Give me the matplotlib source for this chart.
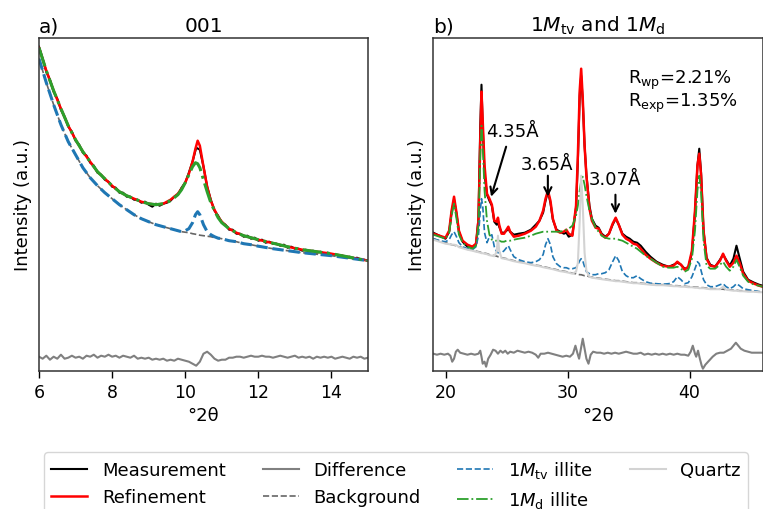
import numpy as np
import matplotlib
matplotlib.use("Agg")
import matplotlib.pyplot as plt

# ---------------- data: panel a) 001 ----------------
lx = np.round(np.arange(6.0, 15.001, 0.1), 2)
meas_left = [324, 312, 299, 291, 279, 272, 261, 254, 244, 239,
             230, 226, 218, 215, 208, 205, 198, 196, 191, 189,
             184, 183, 178, 178, 174, 174, 171, 171, 168, 169,
             166, 164, 167, 165, 167, 168, 170, 174, 176, 183,
             188, 198, 209, 223, 221, 204, 184, 171, 160, 155,
             148, 146, 141, 141, 137, 137, 134, 135, 132, 133,
             130, 131, 128, 129, 127, 127, 125, 126, 123, 124,
             122, 122, 120, 121, 119, 120, 118, 119, 117, 118,
             116, 116, 115, 115, 113, 114, 112, 113, 111, 111,
             110]
diff_left = [14, 12, 15, 11, 14, 12, 16, 12, 13, 15,
             13, 14, 12, 15, 14, 16, 13, 15, 14, 16,
             14, 15, 13, 15, 14, 13, 15, 12, 13, 12,
             13, 11, 12, 11, 12, 10, 11, 10, 12, 11,
             10, 9, 7, 5, 9, 17, 19, 16, 12, 10,
             11, 11, 13, 13, 14, 14, 13, 14, 15, 14,
             14, 15, 14, 14, 13, 14, 15, 14, 13, 14,
             15, 13, 14, 13, 14, 12, 14, 13, 14, 13,
             14, 12, 13, 14, 13, 12, 14, 13, 14, 12,
             13]
lxf = [6.0, 6.2, 6.4, 6.6, 6.8, 7.0, 7.2, 7.4, 7.6, 7.8,
       8.0, 8.2, 8.4, 8.6, 8.8, 9.0, 9.2, 9.4, 9.6, 9.8,
       9.9, 10.0, 10.1, 10.2, 10.28, 10.34, 10.4, 10.5, 10.6, 10.7,
       10.8, 10.9, 11.0, 11.2, 11.4, 11.6, 11.8, 12.0, 12.4, 12.8,
       13.2, 13.6, 14.0, 14.5, 15.0]
ref_left = [323, 300, 280, 262, 245, 231, 219, 209, 199, 192,
            185, 179, 175, 172, 169, 167, 166, 167, 171, 177,
            182, 188, 197, 209, 222, 230, 225, 204, 184, 170,
            161, 154, 149, 142, 138, 135, 133, 131, 127.5, 124,
            121, 119, 117, 113.5, 110]
d_left = [323, 300, 280, 262, 245, 231, 219, 209, 199, 192,
          185, 179, 175, 172, 169, 167, 166, 167, 170, 176,
          181, 188, 196, 204, 208, 207, 203, 191, 179, 168,
          160, 153, 148, 142, 138, 135, 133, 131, 127.5, 124,
          121, 119, 117, 113.5, 110]
bg_left = [312, 288, 266, 246, 229, 216, 203, 193, 185, 178,
           172, 166, 161, 156, 152, 149, 146, 144, 142, 140,
           139, 138.5, 138, 137, 136.5, 136, 135.5, 135, 134.5, 134,
           133, 132.5, 132, 130, 129, 127, 126, 124.5, 122, 120,
           118, 116.5, 115, 112.5, 110]
tv_left = [312, 288, 266, 246, 229, 216, 203, 193, 185, 178,
           172, 166, 161, 156, 152, 149, 146, 144, 142, 140,
           139, 140, 142, 148, 156, 159, 156, 146, 139, 136,
           134, 132.5, 132, 130, 129, 127, 126, 124.5, 122, 120,
           118, 116.5, 115, 112.5, 110]

# ---------------- data: panel b) 1Mtv and 1Md ----------------
rx = [19.0, 19.5, 20.0, 20.3, 20.5, 20.7, 20.9, 21.1, 21.4, 21.8,
      22.2, 22.5, 22.7, 22.85, 22.95, 23.05, 23.2, 23.4, 23.6, 23.8,
      24.0, 24.2, 24.3, 24.4, 24.6, 24.8, 25.0, 25.15, 25.3, 25.6,
      26.0, 26.5, 27.0, 27.4, 27.7, 28.0, 28.2, 28.4, 28.6, 28.8,
      29.1, 29.4, 29.7, 29.9, 30.1, 30.4, 30.7, 30.85, 31.0, 31.12,
      31.25, 31.4, 31.55, 31.8, 32.0, 32.3, 32.55, 32.8, 33.1, 33.4,
      33.7, 33.95, 34.2, 34.5, 34.8, 35.1, 35.4, 35.7, 36.0, 36.4,
      36.8, 37.3, 37.8, 38.3, 38.7, 39.0, 39.3, 39.6, 39.9, 40.2,
      40.45, 40.65, 40.8, 40.95, 41.15, 41.4, 41.7, 42.1, 42.5, 42.75,
      43.0, 43.3, 43.6, 43.85, 44.1, 44.4, 44.8, 45.3, 45.7, 46.0]
meas_right = [138, 135, 132, 139, 158, 171, 157, 139, 129, 124,
              123, 126, 152, 245, 286, 245, 197, 176, 170, 165,
              149, 146, 149, 144, 138, 138, 140, 142, 139, 136,
              137, 138, 141, 146, 150, 158, 170, 179, 168, 151,
              141, 139, 137, 138, 134, 136, 163, 210, 275, 295,
              270, 225, 196, 165, 152, 145, 143, 137, 134, 137,
              146, 152, 146, 137, 134, 132, 129, 128, 125, 119,
              114, 109, 106, 104, 106, 108, 106, 102, 103, 118,
              158, 205, 222, 198, 140, 113, 106, 104, 111, 116,
              111, 105, 112, 125, 113, 99, 91, 88, 86, 85]
ref_right = [137, 135, 133, 140, 160, 174, 158, 140, 130, 126,
             124, 127, 150, 230, 279, 250, 205, 177, 172, 166,
             150, 149, 153, 146, 137, 137, 141, 144, 139, 134,
             135, 137, 140, 144, 150, 160, 172, 180, 170, 152,
             140, 138, 139, 141, 137, 135, 165, 215, 280, 302,
             272, 225, 195, 162, 150, 143, 142, 136, 133, 137,
             147, 153, 146, 136, 132, 130, 127, 126, 122, 116,
             112, 108, 105, 104, 105, 109, 106, 101, 104, 120,
             160, 205, 217, 195, 140, 112, 105, 104, 110, 117,
             110, 104, 108, 115, 108, 97, 90, 87, 85, 84]
d_right = [136, 134, 132, 138, 155, 167, 152, 136, 128, 124,
           122, 125, 145, 215, 245, 225, 180, 150, 136, 131,
           130, 130, 130, 130, 129, 129, 130, 130, 130, 131,
           132, 133, 135, 137, 138, 139, 139, 139, 139, 139,
           139, 139, 140, 141, 142, 145, 155, 165, 180, 190,
           194, 186, 175, 160, 152, 143, 139, 135, 133, 132,
           132, 132, 131, 130, 128, 126, 124, 122, 119, 115,
           112, 108, 104, 103, 103, 104, 102, 99, 101, 112,
           140, 180, 195, 178, 130, 105, 102, 102, 106, 109,
           104, 100, 104, 111, 104, 95, 89, 86, 85, 84]
tv_right = [132, 130, 129, 131, 136, 139, 134, 128, 124, 122,
            121, 124, 135, 160, 172, 165, 138, 128, 134, 136,
            124, 119, 118, 118, 118, 120, 123, 125, 121, 114,
            111, 109, 108, 109, 111, 116, 126, 132, 126, 114,
            107, 104, 103, 103, 102, 102, 103, 106, 110, 112,
            110, 104, 99, 97, 96, 96, 97, 97, 98, 101,
            109, 115, 110, 99, 95, 93, 93, 95, 92, 89,
            87.5, 87, 86.5, 87, 89, 94, 91, 87, 88, 94,
            102, 109, 107, 100, 91, 86, 84, 84, 86, 87,
            84, 82, 84, 87, 85, 82, 81, 80, 79, 79]
bg_right = [132, 130, 128, 127, 126, 125.5, 125, 124, 123, 121.5,
            120.5, 119.5, 119, 118.5, 118, 118, 117.5, 117, 116, 115.5,
            115, 114.5, 114, 114, 113, 112.5, 112, 111.5, 111, 110,
            109, 108, 106.5, 105.5, 105, 104, 103.5, 103, 102.5, 102,
            101, 100, 99.5, 99, 98.5, 97.5, 97, 96.5, 96, 96,
            95.5, 95, 95, 94, 93.5, 93, 92.5, 92, 91.5, 91,
            90.5, 90, 90, 89.5, 89, 88.5, 88, 88, 87.5, 87,
            86.5, 86, 86, 85.5, 85, 85, 84.5, 84.5, 84, 84,
            83.5, 83.5, 83, 83, 83, 82.5, 82, 82, 81.5, 81.5,
            81, 81, 80.5, 80.5, 80, 80, 79.5, 79.5, 79, 79]
quartz_right = [131, 129, 127, 126.5, 126, 126, 125.5, 123.5, 122.5, 121,
                120, 119, 118.5, 118, 117.5, 117.5, 117, 116.5, 115.5, 115,
                114.5, 119, 135, 120, 112.5, 112, 111.5, 111, 110.5, 109.5,
                108.5, 107.5, 106, 105, 104.5, 103.5, 103, 102.5, 102, 101.5,
                100.5, 99.5, 99, 98.5, 98, 97, 99, 108, 150, 195,
                165, 118, 100, 94, 93, 92.5, 92, 91.5, 91, 90.5,
                90, 89.5, 89.5, 89, 88.5, 88, 87.5, 87.5, 87, 86.5,
                86, 85.5, 85.5, 85, 84.5, 84.5, 84, 84, 83.5, 83.5,
                83, 83, 82.5, 82.5, 82.5, 82, 81.5, 81.5, 81.5, 84,
                81, 80.5, 80, 80, 79.5, 79.5, 79, 79, 78.5, 78.5]
rdx = [19.0, 19.3, 19.6, 19.9, 20.2, 20.4, 20.55, 20.7, 20.85, 21.0,
       21.2, 21.5, 21.8, 22.1, 22.4, 22.7, 22.85, 22.95, 23.05, 23.2,
       23.33, 23.5, 23.7, 23.9, 24.1, 24.3, 24.5, 24.7, 24.9, 25.1,
       25.3, 25.6, 25.9, 26.2, 26.5, 26.8, 27.1, 27.4, 27.6, 27.8,
       28.1, 28.4, 28.7, 29.0, 29.3, 29.6, 29.9, 30.2, 30.45, 30.65,
       30.8, 30.95, 31.1, 31.25, 31.4, 31.55, 31.72, 31.9, 32.1, 32.4,
       32.7, 33.0, 33.3, 33.6, 33.9, 34.2, 34.5, 34.8, 35.1, 35.4,
       35.7, 36.0, 36.3, 36.6, 36.9, 37.2, 37.5, 37.8, 38.1, 38.4,
       38.7, 39.0, 39.3, 39.6, 39.9, 40.1, 40.27, 40.45, 40.55, 40.7,
       40.85, 41.0, 41.1, 41.3, 41.6, 41.9, 42.2, 42.5, 42.8, 43.1,
       43.4, 43.6, 43.8, 44.0, 44.2, 44.5, 44.8, 45.1, 45.4, 45.7,
       46.0]
diff_right = [17, 16, 17, 16, 17, 15, 9, 12, 19, 21,
              18, 17, 16, 17, 16, 17, 20, 14, 7, 9,
              4, 12, 16, 21, 20, 17, 20, 18, 20, 17,
              19, 18, 20, 19, 18, 19, 18, 16, 13, 17,
              17, 18, 17, 16, 15, 14, 15, 14, 17, 25,
              18, 12, 22, 32, 22, 12, 7, 16, 19, 18,
              18, 17, 18, 17, 18, 17, 18, 19, 18, 17,
              17, 18, 16, 17, 16, 17, 16, 17, 16, 17,
              16, 17, 16, 16, 15, 19, 25, 17, 14, 20,
              12, 5, 2, 6, 10, 14, 17, 18, 18, 20,
              22, 25, 28, 25, 22, 20, 19, 18, 18, 18,
              18]

left_ticks = [6, 8, 10, 12, 14]
right_ticks = [20, 30, 40]
labels = ["Measurement", "Refinement", "Difference", "Background",
          r"1$M_{\rm tv}$ illite", r"1$M_{\rm d}$ illite", "Quartz"]

# ---------------- styling ----------------
C_MEAS, C_REF, C_DIFF, C_BG = "black", "red", "gray", "#666666"
C_TV, C_D, C_Q = "#1f77b4", "#2ca02c", "lightgray"

plt.rcParams["font.family"] = ["DejaVu Sans"]
plt.rcParams["font.size"] = 13

fig = plt.figure(figsize=(7.63, 5.10), dpi=100)
bottom = (510 - 371.7) / 510
height = 332.7 / 510
axL = fig.add_axes([39 / 763, bottom, 329 / 763, height])
axR = fig.add_axes([433.3 / 763, bottom, 329.4 / 763, height])

# panel a
axL.plot(lx, meas_left, color=C_MEAS, lw=1.5)
axL.plot(lxf, ref_left, color=C_REF, lw=1.8)
axL.plot(lx, diff_left, color=C_DIFF, lw=1.5)
axL.plot(lxf, bg_left, color=C_BG, ls="--", lw=1.2)
axL.plot(lxf, tv_left, color=C_TV, ls="--", lw=2.2)
axL.plot(lxf, d_left, color=C_D, ls="-.", lw=2.2)

# panel b
h = []
h += axR.plot(rx, meas_right, color=C_MEAS, lw=1.5)
h += axR.plot(rx, ref_right, color=C_REF, lw=1.8)
h += axR.plot(rdx, diff_right, color=C_DIFF, lw=1.5)
h += axR.plot(rx, bg_right, color=C_BG, ls="--", lw=1.2)
h += axR.plot(rx, tv_right, color=C_TV, ls="--", lw=1.2)
h += axR.plot(rx, d_right, color=C_D, ls="-.", lw=1.3)
h += axR.plot(rx, quartz_right, color=C_Q, lw=1.5)

for ax in (axL, axR):
    ax.set_ylim(0, 332.7)
    ax.set_yticks([])
    ax.set_xlabel("°2θ", fontsize=13)
    ax.set_ylabel("Intensity (a.u.)", fontsize=13, labelpad=5)
    ax.tick_params(axis="x", length=5, width=1, labelsize=12.5)
    for s in ax.spines.values():
        s.set_color("#333333")
        s.set_linewidth(1.1)

axL.set_xlim(6, 15)
axL.set_xticks(left_ticks)
axR.set_xlim(19, 46)
axR.set_xticks(right_ticks)

axL.set_title("001", fontsize=14.5, pad=5)
axL.set_title("a)", loc="left", fontsize=14.5, pad=5)
axR.set_title(r"1$M_{\rm tv}$ and 1$M_{\rm d}$", fontsize=14.5, pad=5)
axR.set_title("b)", loc="left", fontsize=14.5, pad=5)

arrow = dict(arrowstyle="->", color="black", lw=1.5, shrinkA=0, shrinkB=0)
axR.annotate("", xy=(23.74, 174), xytext=(24.97, 224), arrowprops=arrow)
axR.annotate("", xy=(28.39, 174), xytext=(28.39, 195), arrowprops=arrow)
axR.annotate("", xy=(33.93, 157), xytext=(33.93, 176), arrowprops=arrow)
axR.text(23.36, 235, "4.35Å", fontsize=13, va="baseline")
axR.text(26.2, 202, "3.65Å", fontsize=13, va="baseline")
axR.text(31.75, 187, "3.07Å", fontsize=13, va="baseline")
axR.text(35.0, 288, r"R$_{\rm wp}$=2.21%", fontsize=13, va="baseline")
axR.text(35.0, 264.7, r"R$_{\rm exp}$=1.35%", fontsize=13, va="baseline")

fig.legend(h, labels, ncol=4, loc="upper left",
           bbox_to_anchor=(44 / 763, 1 - 453 / 510), borderaxespad=0,
           fontsize=13, columnspacing=2.05)

fig.savefig("out.png", dpi=100)
